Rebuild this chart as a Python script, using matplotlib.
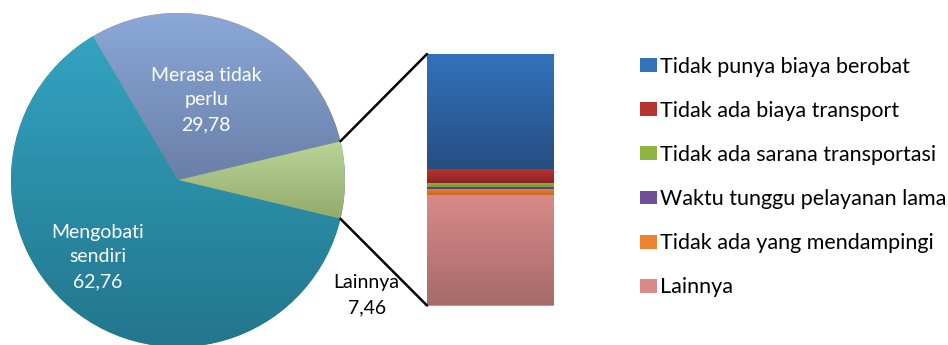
import matplotlib.pyplot as plt
import numpy as np
from matplotlib.patches import ConnectionPatch, Patch
from matplotlib.colors import LinearSegmentedColormap

plt.rcParams['font.family'] = ['Lato', 'DejaVu Sans']

# pie data (counter-clockwise from the right)
pieNames = ['Lainnya', 'Merasa tidak\nperlu', 'Mengobati\nsendiri']
pieValues = [7.46, 29.78, 62.76]
pieTop = ['#BAD498', '#8AA8D8', '#33A3C1']
pieBottom = ['#93AA6C', '#6A7FA8', '#22768D']
pieTextColor = ['black', 'white', 'white']

# breakdown of "Lainnya" (top to bottom)
barNames = ['Tidak punya biaya berobat', 'Tidak ada biaya transport',
            'Tidak ada sarana transportasi', 'Waktu tunggu pelayanan lama',
            'Tidak ada yang mendampingi', 'Lainnya']
barValues = [3.42, 0.40, 0.12, 0.07, 0.18, 3.27]
barTop = ['#3272BB', '#B7332F', '#8FB540', '#6E4F99', '#EC8430', '#DA8A88']
barBottom = ['#264E82', '#8C2423', '#789A34', '#5A3E7E', '#C8682A', '#A56B6A']

W, H = 948, 345
fig = plt.figure(figsize=(W/100, H/100), dpi=100)

def gradient(ax, patch, top, bottom, extent):
    cmap = LinearSegmentedColormap.from_list('g', [bottom, top])
    img = ax.imshow(np.linspace(0, 1, 100).reshape(-1, 1), cmap=cmap,
                    extent=extent, origin='lower', aspect='auto',
                    interpolation='bilinear', zorder=patch.get_zorder())
    img.set_clip_path(patch)

# ---- pie ----
cx, cy, r = 178, 180, 167
axPie = fig.add_axes([(cx-r)/W, (H-cy-r)/H, 2*r/W, 2*r/H])
startAngle = -pieValues[0]/sum(pieValues)*180
wedges, _ = axPie.pie(pieValues, startangle=startAngle, counterclock=True,
                      radius=1, wedgeprops=dict(linewidth=0))
for w, t, b in zip(wedges, pieTop, pieBottom):
    bb = w.get_path().get_extents()
    gradient(axPie, w, t, b, [-1, 1, bb.y0, bb.y1])
axPie.set_xlim(-1, 1)
axPie.set_ylim(-1, 1)
axPie.set_aspect('auto')
axPie.axis('off')

labelPos = [(1.13, -0.69), (0.17, 0.48), (-0.48, -0.46)]
for name, v, pos, c in zip(pieNames, pieValues, labelPos, pieTextColor):
    axPie.text(pos[0], pos[1], name + '\n' + f'{v:.2f}'.replace('.', ','),
               ha='center', va='center', color=c, fontsize=14,
               linespacing=1.55, clip_on=False)

# ---- stacked bar ----
bx0, bx1, by0, by1 = 427, 554, 54, 305.5
axBar = fig.add_axes([bx0/W, (H-by1)/H, (bx1-bx0)/W, (by1-by0)/H])
bottom = 0
for v, t, b in reversed(list(zip(barValues, barTop, barBottom))):
    rect = axBar.bar(0, v, width=1, bottom=bottom, color=t, linewidth=0)[0]
    gradient(axBar, rect, t, b, [-0.5, 0.5, bottom, bottom + v])
    bottom += v
axBar.set_xlim(-0.5, 0.5)
axBar.set_ylim(0, sum(barValues))
axBar.axis('off')

# connector lines
ang = np.deg2rad(pieValues[0]/sum(pieValues)*180)
for sgn, yb in [(1, sum(barValues)), (-1, 0)]:
    con = ConnectionPatch(xyA=(np.cos(ang), sgn*np.sin(ang)), coordsA=axPie.transData,
                          xyB=(-0.5, yb), coordsB=axBar.transData,
                          color='black', linewidth=1.8)
    fig.add_artist(con)

# legend
handles = [Patch(facecolor=c, edgecolor='none') for c in barTop]
fig.legend(handles, barNames, loc='upper left', bbox_to_anchor=(629/W, 1-46/H),
           frameon=False, fontsize=15.5, handlelength=0.78, handleheight=0.62,
           handletextpad=0.15, labelspacing=1.12, borderpad=0)

fig.savefig('out.png', dpi=100)
